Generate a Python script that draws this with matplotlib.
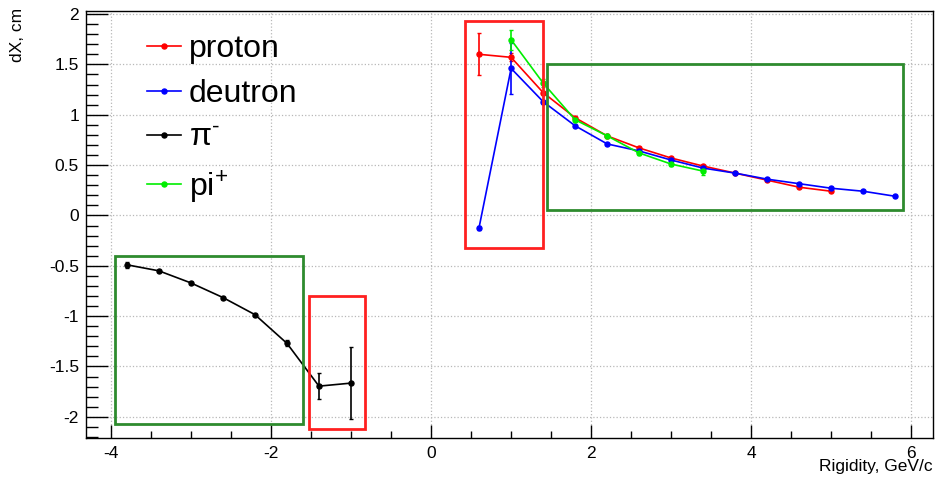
import matplotlib
matplotlib.use("Agg")
import matplotlib.pyplot as plt
from matplotlib.patches import Rectangle
from matplotlib.ticker import MultipleLocator, FormatStrFormatter
from matplotlib.lines import Line2D

plt.rcParams['font.family'] = ['Liberation Sans', 'DejaVu Sans']
plt.rcParams['axes.unicode_minus'] = False
plt.rcParams['mathtext.fontset'] = 'custom'
plt.rcParams['mathtext.rm'] = 'Liberation Sans'

# data
proton_x = [0.6, 1.0, 1.4, 1.8, 2.2, 2.6, 3.0, 3.4, 3.8, 4.2, 4.6, 5.0]
proton_y = [1.60, 1.57, 1.22, 0.97, 0.79, 0.67, 0.57, 0.49, 0.42, 0.35, 0.28, 0.24]
proton_err = [0.21, 0.04, 0.02, 0.01, 0.01, 0.01, 0.01, 0.01, 0.01, 0.01, 0.01, 0.01]

deuteron_x = [0.6, 1.0, 1.4, 1.8, 2.2, 2.6, 3.0, 3.4, 3.8, 4.2, 4.6, 5.0, 5.4, 5.8]
deuteron_y = [-0.12, 1.46, 1.13, 0.89, 0.71, 0.64, 0.55, 0.47, 0.42, 0.36, 0.315, 0.27, 0.24, 0.19]
deuteron_err = [0.02, 0.25, 0.02, 0.01, 0.01, 0.01, 0.01, 0.01, 0.01, 0.01, 0.01, 0.01, 0.01, 0.01]

pim_x = [-3.8, -3.4, -3.0, -2.6, -2.2, -1.8, -1.4, -1.0]
pim_y = [-0.49, -0.55, -0.67, -0.815, -0.985, -1.27, -1.695, -1.665]
pim_err = [0.03, 0.01, 0.01, 0.01, 0.01, 0.03, 0.127, 0.36]

pip_x = [1.0, 1.4, 1.8, 2.2, 2.6, 3.0, 3.4]
pip_y = [1.745, 1.315, 0.95, 0.79, 0.62, 0.51, 0.44]
pip_err = [0.1, 0.04, 0.02, 0.02, 0.02, 0.02, 0.04]

# highlight boxes: (x0, y0, x1, y1)
green_boxes = [(-3.95, -2.07, -1.6, -0.40), (1.45, 0.05, 5.9, 1.50)]
red_boxes = [(-1.53, -2.12, -0.82, -0.80), (0.42, -0.32, 1.40, 1.93)]

fig = plt.figure(figsize=(9.37, 4.79), dpi=100)
ax = fig.add_axes([86/937, 41/479, 847/937, 427/479])

series = [
    (proton_x, proton_y, proton_err, 'red', 'proton'),
    (deuteron_x, deuteron_y, deuteron_err, 'blue', 'deutron'),
    (pim_x, pim_y, pim_err, 'black', r'π$^{\text{-}}$'),
    (pip_x, pip_y, pip_err, '#00ee00', 'pi$^{+}$'),
]
handles = []
labels = []
for x, y, e, c, lab in series:
    ax.errorbar(x, y, yerr=e, color=c, marker='o', markersize=3.6, lw=1.2,
                elinewidth=1.2, capsize=1.5, zorder=3)
    handles.append(Line2D([], [], color=c, marker='o', markersize=3.6, lw=1.2))
    labels.append(lab)

for x0, y0, x1, y1 in green_boxes:
    ax.add_patch(Rectangle((x0, y0), x1 - x0, y1 - y0, fill=False,
                           edgecolor='#2e8b2e', lw=2, zorder=4))
for x0, y0, x1, y1 in red_boxes:
    ax.add_patch(Rectangle((x0, y0), x1 - x0, y1 - y0, fill=False,
                           edgecolor='#ff2020', lw=2, zorder=4))

ax.set_xlim(-4.31, 6.27)
ax.set_ylim(-2.21, 2.03)
ax.xaxis.set_major_locator(MultipleLocator(2))
ax.xaxis.set_minor_locator(MultipleLocator(0.5))
ax.yaxis.set_major_locator(MultipleLocator(0.5))
ax.yaxis.set_minor_locator(MultipleLocator(0.1))
ax.xaxis.set_major_formatter(FormatStrFormatter('%g'))
ax.yaxis.set_major_formatter(FormatStrFormatter('%g'))
ax.tick_params(axis='x', which='major', direction='in', length=9.4, width=1,
               labelsize=12.5, pad=6, top=False)
ax.tick_params(axis='x', which='minor', direction='in', length=4.7, width=1, top=False)
ax.tick_params(axis='y', which='major', direction='in', length=16, width=1,
               labelsize=12.5, pad=5, right=False)
ax.tick_params(axis='y', which='minor', direction='in', length=8.6, width=1, right=False)
ax.grid(True, which='major', color='#b8b8b8', linestyle=':', lw=0.9)
for s in ax.spines.values():
    s.set_linewidth(1)

fig.text(933/937, 1 - 467/479, 'Rigidity, GeV/c', ha='right', va='center', fontsize=12.5)
fig.text(18/937, 1 - 8/479, 'dX, cm', ha='center', va='top', rotation=90, fontsize=12.5)

ax.legend(handles, labels, loc='upper left', bbox_to_anchor=(0.057, 0.975),
          frameon=False, fontsize=23, handlelength=1.05, handletextpad=0.25,
          labelspacing=0.45, borderaxespad=0)

fig.savefig('out.png', dpi=100)
